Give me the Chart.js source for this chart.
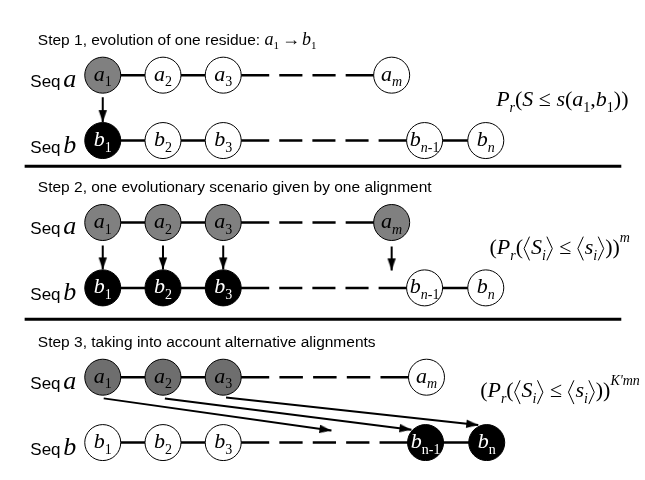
<!doctype html>
<html lang="en">
<head>
<meta charset="utf-8">
<title>Alignment significance, three steps</title>
<script src="https://cdn.jsdelivr.net/npm/chart.js@4.4.0/dist/chart.umd.min.js"></script>
<style>
  html, body { margin: 0; padding: 0; background: #fff; }
  #wrap { width: 645px; height: 480px; }
</style>
</head>
<body>
<div id="wrap"><canvas id="diagram" width="645" height="480"></canvas></div>
<script>
// ---- data (diagram units, x 0..645, y 0..480 top-down) ----
var stepTitles = [
    'Step 1, evolution of one residue: ',
    'Step 2, one evolutionary scenario given by one alignment',
    'Step 3, taking into account alternative alignments'
];
var rowA = [61, 221, 389];      // "Seq a" row of each step
var rowB = [132, 292, 460];     // "Seq b" row of each step
var colA = [[89, 153, 217, 396], [89, 153, 217, 396], [89, 153, 217, 433]];
var colB = [[89, 153, 217, 431, 496], [89, 153, 217, 431, 496], [89, 153, 217, 432, 497]];
var labA = ['1', '2', '3', 'm'];
var labB = ['1', '2', '3', 'n-1', 'n'];
var gapAfter = 2;               // dashed stretch begins after the 3rd residue
// 1 = residue taking part (grey on seq a, black on seq b)
var stateA = [[1, 0, 0, 0], [1, 1, 1, 1], [1, 1, 1, 0]];
var stateB = [[1, 0, 0, 0, 0], [1, 1, 1, 0, 0], [0, 0, 0, 1, 1]];
var uprightSub = [false, false, true];
// arrows
var arrowFromX = [89, 89, 153, 217, 396, 90, 155, 220];
var arrowFromY = [85, 246, 246, 246, 247, 412, 412, 411];
var arrowToX = [89, 89, 153, 217, 396, 332, 417, 488];
var arrowToY = [112, 272, 272, 272, 273, 447, 446, 441];
var separatorY = [160, 326];

var NODE_R = 18;
var greys = ['#808080', '#808080', '#6e6e6e'];

function dashFor(c) {
    if (c.p0DataIndex !== gapAfter) return [];
    var len = c.p1.x - c.p0.x;
    var edge = NODE_R + 28;
    var mid = len - 2 * edge;
    var n = Math.max(1, Math.round((mid - 12) / 37));
    var gap = mid / (n * 2.3 + n + 1);
    var pat = [edge, gap];
    for (var k = 0; k < n; k++) pat.push(gap * 2.3, gap);
    pat.push(edge + 20);
    return pat;
}

function makeArrowHead() {
    var c = document.createElement('canvas');
    c.width = 26; c.height = 26;
    var g = c.getContext('2d');
    g.fillStyle = '#000';
    g.beginPath();
    g.moveTo(13, 13);
    g.lineTo(8.8, 25);
    g.lineTo(17.2, 25);
    g.closePath();
    g.fill();
    return c;
}
var arrowHead = makeArrowHead();

var datasets = [];
for (var s = 0; s < 3; s++) {
    var ptsA = colA[s].map(function (x) { return { x: x, y: rowA[s] }; });
    var ptsB = colB[s].map(function (x) { return { x: x, y: rowB[s] }; });
    [ptsA, ptsB].forEach(function (pts) {
        datasets.push({
            data: pts, showLine: true, pointRadius: 0, borderColor: '#000',
            borderWidth: 2.5, order: 2, segment: { borderDash: dashFor }
        });
    });
    datasets.push({
        data: ptsA, showLine: false, pointRadius: NODE_R, pointBorderWidth: 1,
        pointBorderColor: '#000', order: 0,
        pointBackgroundColor: stateA[s].map(function (v) { return v ? greys[s] : '#fff'; })
    });
    datasets.push({
        data: ptsB, showLine: false, pointRadius: NODE_R, pointBorderWidth: 1,
        pointBorderColor: '#000', order: 0,
        pointBackgroundColor: stateB[s].map(function (v) { return v ? '#000' : '#fff'; })
    });
}
for (var i = 0; i < arrowFromX.length; i++) {
    datasets.push({
        data: [{ x: arrowFromX[i], y: arrowFromY[i] }, { x: arrowToX[i], y: arrowToY[i] }],
        showLine: true, borderColor: '#000', borderWidth: 2, order: 1,
        pointRadius: [0, 6], pointStyle: arrowHead,
        pointRotation: function (c) {
            var d = c.dataset.data, xs = c.chart.scales.x, ys = c.chart.scales.y;
            var dx = xs.getPixelForValue(d[1].x) - xs.getPixelForValue(d[0].x);
            var dy = ys.getPixelForValue(d[1].y) - ys.getPixelForValue(d[0].y);
            return Math.atan2(dy, dx) * 180 / Math.PI + 90;
        }
    });
}
separatorY.forEach(function (y) {
    datasets.push({
        data: [{ x: 6, y: y }, { x: 640, y: y }], showLine: true,
        borderColor: '#000', borderWidth: 3, pointRadius: 0, order: 2
    });
});

// ---- small rich-text helper for the maths ----
var SERIF = '"Liberation Serif", "Times New Roman", serif';
function runSize(r, size) { return (r[2] === 'sub' || r[2] === 'sup') ? Math.round(size * 0.62) : size; }
function runWidth(ctx, r, size) {
    if (r[2] === 'lang' || r[2] === 'rang') return size * 0.36;
    if (r[2] === 'gap') return r[3];
    ctx.font = (r[1] ? 'italic ' : '') + runSize(r, size) + 'px ' + SERIF;
    return ctx.measureText(r[0]).width;
}
function drawRuns(ctx, runs, x, y, size, center) {
    var w = 0;
    runs.forEach(function (r) { w += runWidth(ctx, r, size); });
    var cx = center ? x - w / 2 : x;
    runs.forEach(function (r) {
        var rw = runWidth(ctx, r, size);
        if (r[2] === 'lang' || r[2] === 'rang') {
            var l = cx + 1, rr = cx + rw - 1.5;
            ctx.beginPath();
            ctx.lineWidth = 1;
            if (r[2] === 'lang') {
                ctx.moveTo(rr, y - size * 0.78); ctx.lineTo(l, y - size * 0.24); ctx.lineTo(rr, y + size * 0.3);
            } else {
                ctx.moveTo(l, y - size * 0.78); ctx.lineTo(rr, y - size * 0.24); ctx.lineTo(l, y + size * 0.3);
            }
            ctx.strokeStyle = ctx.fillStyle;
            ctx.stroke();
        } else if (r[2] !== 'gap') {
            var dy = r[2] === 'sub' ? size * 0.26 : (r[2] === 'sup' ? -size * 0.55 : 0);
            ctx.font = (r[1] ? 'italic ' : '') + runSize(r, size) + 'px ' + SERIF;
            ctx.fillText(r[0], cx, y + dy);
        }
        cx += rw;
    });
    return cx;
}

function subRuns(txt, upright) {
    var out = [];
    txt.split('').forEach(function (ch) {
        out.push([ch, !upright && /[a-z]/.test(ch), 'sub']);
    });
    return out;
}

var formulas = [
    [['P', 1], ['r', 1, 'sub'], ['(', 0], ['S', 1], [' \u2264 ', 0], ['s', 1], ['(', 0], ['a', 1], ['1', 0, 'sub'],
     [',', 0], ['b', 1], ['1', 0, 'sub'], ['))', 0]],
    [['(', 0], ['P', 1], ['r', 1, 'sub'], ['(', 0], ['', 0, 'lang'], ['S', 1], ['i', 1, 'sub'], ['', 0, 'rang'],
     [' \u2264 ', 0], ['', 0, 'lang'], ['s', 1], ['i', 1, 'sub'], ['', 0, 'rang'], ['))', 0], ['m', 1, 'sup']],
    [['(', 0], ['P', 1], ['r', 1, 'sub'], ['(', 0], ['', 0, 'lang'], ['S', 1], ['i', 1, 'sub'], ['', 0, 'rang'],
     [' \u2264 ', 0], ['', 0, 'lang'], ['s', 1], ['i', 1, 'sub'], ['', 0, 'rang'], ['))', 0], ["K'mn", 1, 'sup']]
];
var formulaX = [507, 500, 490];
var formulaY = [95, 255, 411];

var textPlugin = {
    id: 'diagramText',
    afterDatasetsDraw: function (chart) {
        var ctx = chart.ctx, xs = chart.scales.x, ys = chart.scales.y;
        ctx.save();
        ctx.textBaseline = 'alphabetic';
        ctx.textAlign = 'left';
        for (var s = 0; s < 3; s++) {
            ctx.fillStyle = '#000';
            // heading
            ctx.font = '15.5px "Liberation Sans", Arial, sans-serif';
            var hy = ys.getPixelForValue(rowA[s] - 33);
            ctx.fillText(stepTitles[s], xs.getPixelForValue(20), hy);
            if (s === 0) {
                var hx = xs.getPixelForValue(20) + ctx.measureText(stepTitles[s]).width;
                drawRuns(ctx, [['a', 1], ['1', 0, 'sub'], ['', 0, 'gap', 3], ['\u2192', 0], ['', 0, 'gap', 2],
                    ['b', 1], ['1', 0, 'sub']], hx, hy, 18, false);
            }
            // sequence names
            [[rowA[s], 'a'], [rowB[s], 'b']].forEach(function (row) {
                var by = ys.getPixelForValue(row[0] + 13);
                ctx.font = '17px "Liberation Sans", Arial, sans-serif';
                ctx.fillText('Seq', xs.getPixelForValue(12), by);
                ctx.font = 'italic 26px ' + SERIF;
                ctx.fillText(row[1], xs.getPixelForValue(47), by);
            });
            // residue labels
            colA[s].forEach(function (x, k) {
                ctx.fillStyle = '#000';
                drawRuns(ctx, [['a', 1]].concat(subRuns(labA[k], false)),
                    xs.getPixelForValue(x), ys.getPixelForValue(rowA[s] + 6), 22, true);
            });
            colB[s].forEach(function (x, k) {
                ctx.fillStyle = stateB[s][k] ? '#fff' : '#000';
                drawRuns(ctx, [['b', 1]].concat(subRuns(labB[k], uprightSub[s])),
                    xs.getPixelForValue(x), ys.getPixelForValue(rowB[s] + 6), 22, true);
            });
            // probability
            ctx.fillStyle = '#000';
            drawRuns(ctx, formulas[s], xs.getPixelForValue(formulaX[s]), ys.getPixelForValue(formulaY[s]), 22, false);
        }
        ctx.restore();
    }
};

new Chart(document.getElementById('diagram'), {
    type: 'scatter',
    data: { datasets: datasets },
    options: {
        responsive: false,
        animation: false,
        events: [],
        layout: { padding: 0 },
        plugins: { legend: { display: false }, tooltip: { enabled: false } },
        scales: {
            x: { type: 'linear', min: 0, max: 645, display: false },
            y: { type: 'linear', min: 0, max: 480, reverse: true, display: false }
        }
    },
    plugins: [textPlugin]
});
</script>
</body>
</html>
